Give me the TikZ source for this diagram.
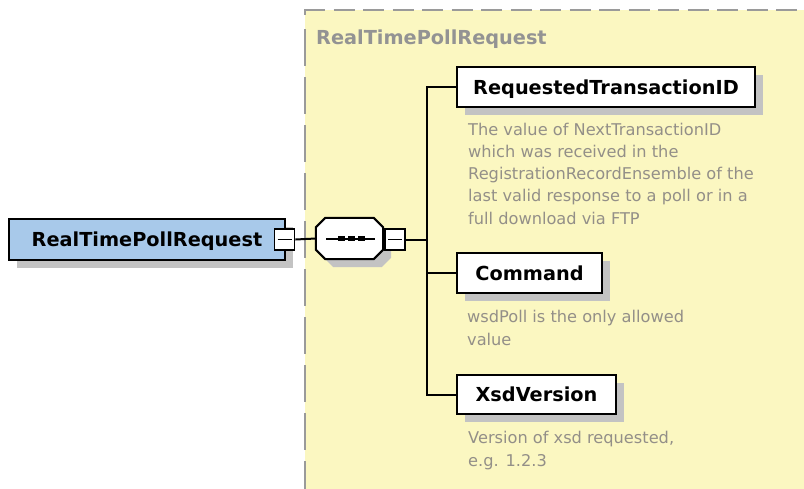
\documentclass[tikz,border=0pt]{standalone}
\usepackage{fontspec}
\setmainfont{DejaVu Sans}
\usetikzlibrary{shadows}

\definecolor{panelfill}{HTML}{FBF7C1}
\definecolor{panelline}{HTML}{9A9A9A}
\definecolor{rootfill}{HTML}{A8C9EA}
\definecolor{shade}{HTML}{C3C3C3}
\definecolor{doctext}{HTML}{938F88}
\definecolor{titletext}{HTML}{939393}

\tikzset{
  boxshadow/.style={drop shadow={shadow xshift=8pt, shadow yshift=-8pt, fill=shade, opacity=1}},
  elem/.style={draw=black, line width=2pt, fill=white, minimum height=40pt,
    inner sep=0pt, text height=14pt, text depth=0pt,
    font=\fontsize{19.3}{22}\selectfont\bfseries, boxshadow},
  rootelem/.style={elem, fill=rootfill, minimum height=41pt},
  toggle/.style={draw=black, line width=1.8pt, fill=white, minimum width=20pt,
    minimum height=20.5pt, inner sep=0pt,
    path picture={\draw[line width=1.4pt]
      ([xshift=3pt]path picture bounding box.west) --
      ([xshift=-3pt]path picture bounding box.east);}},
  octagon/.style={draw=black, line width=2pt, fill=white, boxshadow},
  doc/.style={anchor=base west, inner sep=0pt, align=left, text=doctext,
    font=\fontsize{16.2}{22.25}\selectfont},
  link/.style={draw=black, line width=2pt},
  panelborder/.style={draw=panelline, line width=2.4pt},
}

\begin{document}
\begin{tikzpicture}[x=1pt,y=-1pt]
\useasboundingbox (0,0) rectangle (804,488);
\clip (0,0) rectangle (804,488);

% complex type panel with its dashed frame
\fill[panelfill] (305,10) rectangle (830,500);
\draw[panelborder, dash pattern=on 21pt off 8.5pt] (304,10) -- (830,10);
\draw[panelborder] (305,10) -- (305,15);
\draw[panelborder, dash pattern=on 37pt off 11pt] (305,29) -- (305,500);
\node[anchor=base west, inner sep=0pt, text=titletext,
      font=\fontsize{19.3}{22}\selectfont\bfseries] (title) at (316,44) {RealTimePollRequest};

% root element
\node[rootelem, minimum width=276pt] (root) at (147,239.5) {RealTimePollRequest};
\node[toggle] (roottog) at (284.5,239.5) {};

% sequence compositor (octagon with a dotted bar)
\node[minimum width=67pt, minimum height=41pt, inner sep=0pt] (seq) at (349.5,238.5) {};
\path[octagon]
  ([xshift=9.5pt]seq.north west) -- ([xshift=-9.5pt]seq.north east) --
  ([yshift=-9.5pt]seq.north east) -- ([yshift=9.5pt]seq.south east) --
  ([xshift=-9.5pt]seq.south east) -- ([xshift=9.5pt]seq.south west) --
  ([yshift=9.5pt]seq.south west) -- ([yshift=-9.5pt]seq.north west) -- cycle;
\draw[line width=2pt] ([xshift=-23.5pt]seq.center) -- ([xshift=25.5pt]seq.center);
\foreach \dx in {-8,2,12}
  \fill ([xshift=\dx pt]seq.center) ++(-3.3,-2.6) rectangle ++(6.6,5.2);
\node[toggle] (seqtog) at (395,239.5) {};

% child elements
\node[elem, minimum width=298pt] (c1) at (606,87) {RequestedTransactionID};
\node[elem, minimum width=145pt] (c2) at (529.5,273) {Command};
\node[elem, minimum width=159pt, minimum height=39pt] (c3) at (536.5,394.5) {XsdVersion};

% annotations (placed by the baseline of their last line)
\node[doc] (d1) at (468,224) {The value of NextTransactionID\\which was received in the\\RegistrationRecordEnsemble of the\\last valid response to a poll or in a\\full download via FTP};
\node[doc] (d2) at (467,345) {wsdPoll is the only allowed\\value};
\node[doc] (d3) at (468,466) {Version of xsd requested,\\e.g. 1.2.3};

% connectors
\coordinate (fork) at (427,239.5);
\draw[link] (roottog.east) -- (seq.west);
\draw[link] (seqtog.east) -- (fork);
\draw[link] (fork) |- (c1.west);
\draw[link] (fork) |- (c2.west);
\draw[link] (fork) |- (c3.west);
\end{tikzpicture}
\end{document}
